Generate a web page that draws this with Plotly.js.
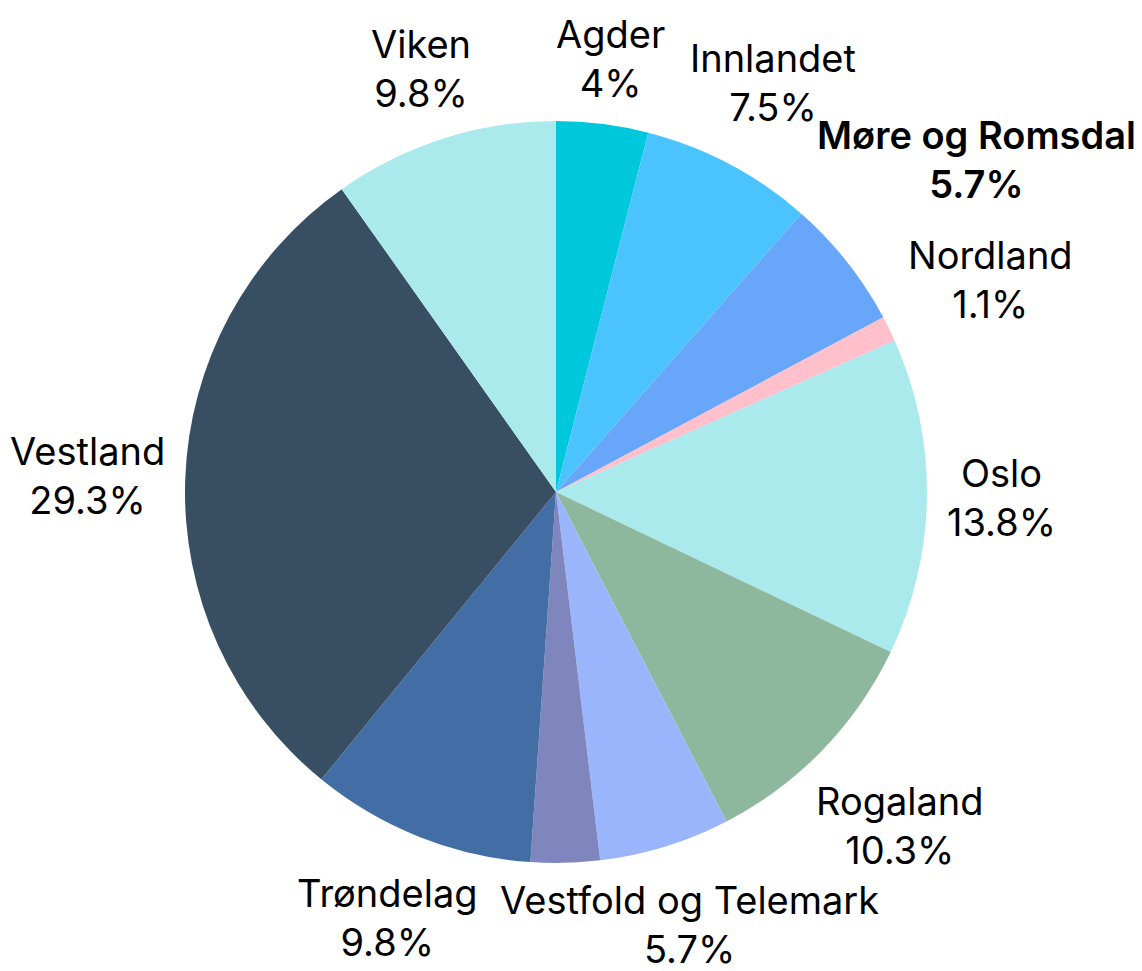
<!DOCTYPE html>
<html>
<head>
<meta charset="utf-8">
<script src="https://cdn.plot.ly/plotly-3.0.1.min.js"></script>
<style>html,body{margin:0;padding:0;background:#fff;}#chart{width:1142px;height:971px;}</style>
</head>
<body>
<div id="chart"></div>
<script>
// ---- data ----
const regions = ["Agder", "Innlandet", "Møre og Romsdal", "Nordland", "Oslo", "Rogaland", "Vestfold og Telemark", "Troms og Finnmark", "Trøndelag", "Vestland", "Viken"];
const shares = [4.0, 7.5, 5.7, 1.1, 13.8, 10.3, 5.7, 3.0, 9.8, 29.3, 9.8];
const sliceColors = ["#00C8DC", "#4BC3FF", "#67A6F8", "#FFC0CB", "#AAEAEC", "#8EB89E", "#9BB5FD", "#7F86BD", "#436EA5", "#384E63", "#ABEAEC"];
const boldRegions = ["Møre og Romsdal"];
const hiddenLabels = ["Troms og Finnmark"];

// ---- layout constants ----
const FIG_W = 1142, FIG_H = 971;
const margin = {l: 185, r: 215, t: 121, b: 108};
const FONT_FAMILY = "Inter, 'Noto Sans', sans-serif";
const FONT_SIZE = 38;
const LABEL_GAP = 20;

const plotW = FIG_W - margin.l - margin.r;
const plotH = FIG_H - margin.t - margin.b;
const R = Math.min(plotW, plotH) / 2;

function formatPct(frac) {
  let s = (frac * 100).toPrecision(3);
  if (s.indexOf('.') !== -1) s = s.replace(/[.]?0+$/, '');
  return s + '%';
}

const ctx = document.createElement('canvas').getContext('2d');
const total = shares.reduce(function (a, b) { return a + b; }, 0);
const annotations = [];
let cum = 0;
regions.forEach(function (name, i) {
  const frac = shares[i] / total;
  const mid = (cum + frac / 2) * 2 * Math.PI; // clockwise from 12 o'clock
  cum += frac;
  if (hiddenLabels.indexOf(name) !== -1) return;
  const pct = formatPct(frac);
  const bold = boldRegions.indexOf(name) !== -1;
  ctx.font = (bold ? '600 ' : '400 ') + FONT_SIZE + 'px Inter';
  const halfW = Math.max(ctx.measureText(name).width, ctx.measureText(pct).width) / 2;
  const halfH = 1.1 * FONT_SIZE;
  const s = Math.sin(mid), c = Math.cos(mid);
  let r = R;
  while (r < R + 500) {
    const nx = Math.max(0, Math.abs(r * s) - halfW);
    const ny = Math.max(0, Math.abs(r * c) - halfH);
    if (Math.hypot(nx, ny) >= R + LABEL_GAP) break;
    r += 0.5;
  }
  annotations.push({
    xref: 'paper', yref: 'paper',
    x: 0.5 + r * s / plotW,
    y: 0.5 + r * c / plotH,
    xanchor: 'center', yanchor: 'middle',
    showarrow: false,
    text: name + '<br>' + pct,
    align: 'center',
    font: {family: FONT_FAMILY, size: FONT_SIZE, color: '#000', weight: bold ? 600 : 400}
  });
});

const data = [{
  type: "pie",
  labels: regions,
  values: shares,
  sort: false,
  direction: "clockwise",
  rotation: 0,
  marker: {colors: sliceColors, line: {width: 0}},
  textinfo: "none",
  showlegend: false
}];

const layout = {
  width: FIG_W,
  height: FIG_H,
  margin: margin,
  paper_bgcolor: "#fff",
  plot_bgcolor: "#fff",
  showlegend: false,
  annotations: annotations
};

Plotly.newPlot("chart", data, layout, {displayModeBar: false, staticPlot: true});
</script>
</body>
</html>
